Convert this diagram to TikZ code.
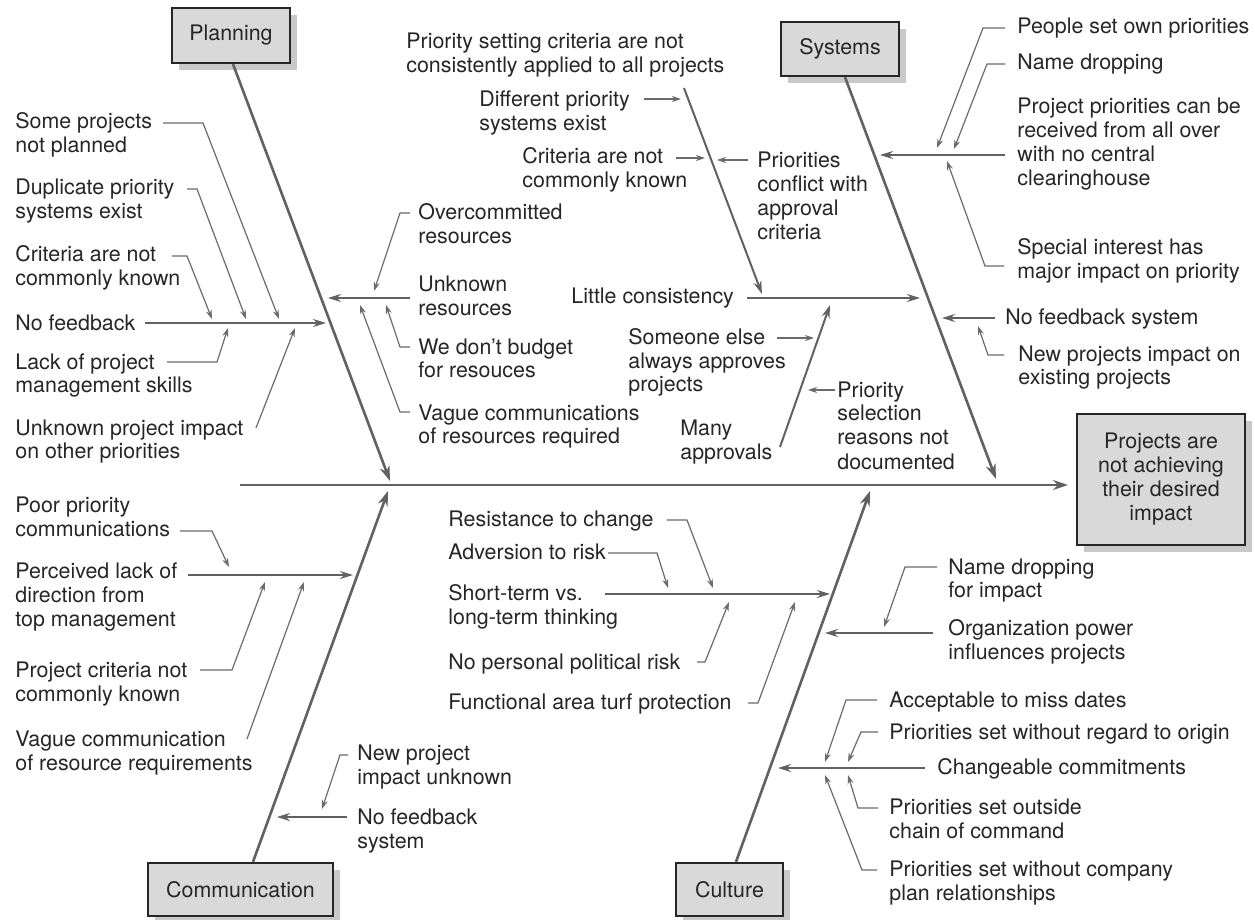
\documentclass[tikz,border=0pt]{standalone}
\usepackage{fontspec}
\setmainfont{TeX Gyre Heros}
\usetikzlibrary{arrows.meta,shadows}
\newcommand{\mlines}[1]{\begin{tabular}[t]{@{}l@{}}#1\end{tabular}}
\newcommand{\clines}[1]{\begin{tabular}{@{}c@{}}#1\end{tabular}}
\begin{document}
\begin{tikzpicture}[x=0.5pt,y=-0.5pt,
  font=\fontsize{10.7}{12}\selectfont,
  txt/.style={anchor=base west, inner sep=0pt, text=black!85},
  box/.style={draw=black!85, line width=1.1pt, fill=black!15, inner sep=0pt, text=black!85,
    drop shadow={shadow xshift=3.5pt, shadow yshift=-3.5pt, fill=black!35, opacity=0.6}},
  bone/.style={draw=black!62, line width=1.3pt, -{Stealth[length=7.5pt,width=5pt]}},
  branch/.style={draw=black!62, line width=1pt, -{Stealth[length=6.5pt,width=4pt]}},
  lead/.style={draw=black!58, line width=0.6pt, -{Stealth[length=4.5pt,width=3pt]}},
  plain/.style={draw=black!62, line width=1pt}
]
\useasboundingbox (0,0) rectangle (1255,920);
\fill[white] (0,0) rectangle (1255,920);

% ---------- boxes ----------
\node[box, minimum width=59pt, minimum height=27.5pt] (plan) at (231,35.5) {Planning};
\node[box, minimum width=59pt, minimum height=27pt] (sys) at (840,49) {Systems};
\node[box, minimum width=92.5pt, minimum height=26.5pt] (comm) at (240.5,889.5) {Communication};
\node[box, minimum width=53.5pt, minimum height=26.5pt] (cult) at (729.5,889.5) {Culture};
\node[box, minimum width=84pt, minimum height=65.5pt] (eff) at (1161,479.5)
  {\clines{Projects are\\not achieving\\their desired\\impact}};

% ---------- spine and bones ----------
\coordinate (spL) at (240,485);
\coordinate (spR) at (1068,485);
\draw[bone] (spL) -- (spR);
\coordinate (pTip) at (390,481);
\coordinate (sTip) at (996,479);
\coordinate (cTip) at (388,491);
\coordinate (uTip) at (870,491);
\draw[bone] ([xshift=1pt]plan.south) -- (pTip);
\draw[bone] ([xshift=2.5pt]sys.south) -- (sTip);
\draw[bone] ([xshift=6.25pt]comm.north) -- (cTip);
\draw[bone] ([xshift=3.25pt]cult.north) -- (uTip);

% ---------- Planning ----------
\node[txt] (p1) at (15,129) {\mlines{Some projects\\not planned}};
\node[txt] (p2) at (15,195) {\mlines{Duplicate priority\\systems exist}};
\node[txt] (p3) at (15,262) {\mlines{Criteria are not\\commonly known}};
\node[txt] (p4) at (15,330) {No feedback};
\node[txt] (p5) at (15,369) {\mlines{Lack of project\\management skills}};
\node[txt] (p6) at (15,435) {\mlines{Unknown project impact\\on other priorities}};

\coordinate (p4a) at (145,323); \coordinate (p4b) at (326,323);
\draw[branch] (p4a) -- (p4b);
\coordinate (p1a) at (163,123); \coordinate (p1b) at (203,123); \coordinate (p1c) at (279,319);
\draw[lead] (p1a) -- (p1b) -- (p1c);
\coordinate (p2a) at (187,189); \coordinate (p2b) at (197,189); \coordinate (p2c) at (246,319);
\draw[lead] (p2a) -- (p2b) -- (p2c);
\coordinate (p3a) at (172,256); \coordinate (p3b) at (187,256); \coordinate (p3c) at (212,319);
\draw[lead] (p3a) -- (p3b) -- (p3c);
\coordinate (p5a) at (167,362); \coordinate (p5b) at (217,362); \coordinate (p5c) at (228,328);
\draw[lead] (p5a) -- (p5b) -- (p5c);
\coordinate (p6a) at (256,428); \coordinate (p6c) at (295,328);
\draw[lead] (p6a) -- (p6c);

% resources
\node[txt] (r1) at (418,220) {\mlines{Overcommitted\\resources}};
\node[txt] (r2) at (418,292) {\mlines{Unknown\\resources}};
\node[txt] (r3) at (418,354) {\mlines{We don't budget\\for resouces}};
\node[txt] (r4) at (418,420) {\mlines{Vague communications\\of resources required}};
\coordinate (r2a) at (410,298); \coordinate (r2b) at (328,298);
\draw[branch] (r2a) -- (r2b);
\coordinate (r1a) at (410,213); \coordinate (r1b) at (400,213); \coordinate (r1c) at (374,291);
\draw[lead] (r1a) -- (r1b) -- (r1c);
\coordinate (r3a) at (410,347); \coordinate (r3b) at (400,347); \coordinate (r3c) at (386,305);
\draw[lead] (r3a) -- (r3b) -- (r3c);
\coordinate (r4a) at (410,412); \coordinate (r4b) at (400,412); \coordinate (r4c) at (360,305);
\draw[lead] (r4a) -- (r4b) -- (r4c);

% ---------- Systems ----------
\node[txt] (s1) at (406,49) {\mlines{Priority setting criteria are not\\consistently applied to all projects}};
\node[txt] (s2) at (479,107) {\mlines{Different priority\\systems exist}};
\node[txt] (s3) at (522,164) {\mlines{Criteria are not\\commonly known}};
\node[txt] (s4) at (757,168) {\mlines{Priorities\\conflict with\\approval\\criteria}};
\node[txt] (s5) at (571,304) {Little consistency};
\node[txt] (s6) at (628,344) {\mlines{Someone else\\always approves\\projects}};
\node[txt] (s7) at (837,397) {\mlines{Priority\\selection\\reasons not\\documented}};
\node[txt] (s8) at (680,436) {\mlines{Many\\approvals}};

\coordinate (s1a) at (684,88); \coordinate (s1b) at (762,294);
\draw[branch] (s1a) -- (s1b);
\coordinate (s5a) at (747,298); \coordinate (s5b) at (920,298);
\draw[branch] (s5a) -- (s5b);
\coordinate (s8a) at (780,447); \coordinate (s8b) at (830,305);
\draw[branch] (s8a) -- (s8b);
\coordinate (s2a) at (644,99); \coordinate (s2b) at (681,99);
\draw[lead] (s2a) -- (s2b);
\coordinate (s3a) at (676,158); \coordinate (s3b) at (705,158);
\draw[lead] (s3a) -- (s3b);
\coordinate (s4a) at (748,160); \coordinate (s4b) at (717,160);
\draw[lead] (s4a) -- (s4b);
\coordinate (s6a) at (777,338); \coordinate (s6b) at (814,338);
\draw[lead] (s6a) -- (s6b);
\coordinate (s7a) at (835,390); \coordinate (s7b) at (808,390);
\draw[lead] (s7a) -- (s7b);

\node[txt] (q1) at (1017,34) {People set own priorities};
\node[txt] (q2) at (1017,70) {Name dropping};
\node[txt] (q3) at (1017,114) {\mlines{Project priorities can be\\received from all over\\with no central\\clearinghouse}};
\node[txt] (q4) at (1017,255) {\mlines{Special interest has\\major impact on priority}};
\node[txt] (q5) at (1005,325) {No feedback system};
\node[txt] (q6) at (1018,361) {\mlines{New projects impact on\\existing projects}};

\coordinate (q3a) at (1005,155); \coordinate (q3b) at (880,155);
\draw[branch] (q3a) -- (q3b);
\coordinate (q5a) at (995,318); \coordinate (q5b) at (942,318);
\draw[branch] (q5a) -- (q5b);
\coordinate (q1a) at (1005,28); \coordinate (q1b) at (983,28); \coordinate (q1c) at (937,148);
\draw[lead] (q1a) -- (q1b) -- (q1c);
\coordinate (q2a) at (1005,64); \coordinate (q2b) at (987,64); \coordinate (q2c) at (954,149);
\draw[lead] (q2a) -- (q2b) -- (q2c);
\coordinate (q4a) at (1004,266); \coordinate (q4b) at (985,266); \coordinate (q4c) at (947,161);
\draw[lead] (q4a) -- (q4b) -- (q4c);
\coordinate (q6a) at (1004,355); \coordinate (q6b) at (988,355); \coordinate (q6c) at (978,326);
\draw[lead] (q6a) -- (q6b) -- (q6c);

% ---------- Culture ----------
\node[txt] (u1) at (448,526) {Resistance to change};
\node[txt] (u2) at (448,559) {Adversion to risk};
\node[txt] (u3) at (448,600) {\mlines{Short-term vs.\\long-term thinking}};
\node[txt] (u4) at (448,669) {No personal political risk};
\node[txt] (u5) at (448,709) {Functional area turf protection};

\coordinate (u3a) at (605,594); \coordinate (u3b) at (830,594);
\draw[branch] (u3a) -- (u3b);
\coordinate (u1a) at (667,520); \coordinate (u1b) at (687,520); \coordinate (u1c) at (713,588);
\draw[lead] (u1a) -- (u1b) -- (u1c);
\coordinate (u2a) at (608,553); \coordinate (u2b) at (657,553); \coordinate (u2c) at (668,588);
\draw[lead] (u2a) -- (u2b) -- (u2c);
\coordinate (u4a) at (697,662); \coordinate (u4b) at (705,662); \coordinate (u4c) at (729,602);
\draw[lead] (u4a) -- (u4b) -- (u4c);
\coordinate (u5a) at (748,703); \coordinate (u5b) at (758,703); \coordinate (u5c) at (795,602);
\draw[lead] (u5a) -- (u5b) -- (u5c);

\node[txt] (v1) at (948,574) {\mlines{Name dropping\\for impact}};
\node[txt] (v2) at (948,635) {\mlines{Organization power\\influences projects}};
\coordinate (v2a) at (933,633); \coordinate (v2b) at (825,633);
\draw[branch] (v2a) -- (v2b);
\coordinate (v1a) at (937,567); \coordinate (v1b) at (905,567); \coordinate (v1c) at (884,627);
\draw[lead] (v1a) -- (v1b) -- (v1c);

\node[txt] (w1) at (889,707) {Acceptable to miss dates};
\node[txt] (w2) at (889,739) {Priorities set without regard to origin};
\node[txt] (w3) at (937,774) {Changeable commitments};
\node[txt] (w4) at (889,814) {\mlines{Priorities set outside\\chain of command}};
\node[txt] (w5) at (889,876) {\mlines{Priorities set without company\\plan relationships}};
\coordinate (w3a) at (925,768); \coordinate (w3b) at (778,768);
\draw[branch] (w3a) -- (w3b);
\coordinate (w1a) at (877,700); \coordinate (w1b) at (846,700); \coordinate (w1c) at (825,762);
\draw[lead] (w1a) -- (w1b) -- (w1c);
\coordinate (w2a) at (878,732); \coordinate (w2b) at (861,732); \coordinate (w2c) at (848,762);
\draw[lead] (w2a) -- (w2b) -- (w2c);
\coordinate (w4a) at (878,808); \coordinate (w4b) at (858,808); \coordinate (w4c) at (848,775);
\draw[lead] (w4a) -- (w4b) -- (w4c);
\coordinate (w5a) at (877,870); \coordinate (w5b) at (862,870); \coordinate (w5c) at (825,775);
\draw[lead] (w5a) -- (w5b) -- (w5c);

% ---------- Communication ----------
\node[txt] (c1) at (15,512) {\mlines{Poor priority\\communications}};
\node[txt] (c2) at (15,578) {\mlines{Perceived lack of\\direction from\\top management}};
\node[txt] (c3) at (15,677) {\mlines{Project criteria not\\commonly known}};
\node[txt] (c4) at (15,746) {\mlines{Vague communication\\of resource requirements}};
\node[txt] (c5) at (357,760) {\mlines{New project\\impact unknown}};
\node[txt] (c6) at (357,824) {\mlines{No feedback\\system}};

\coordinate (c2a) at (188,575); \coordinate (c2b) at (353,575);
\draw[branch] (c2a) -- (c2b);
\coordinate (c1a) at (180,531); \coordinate (c1b) at (212,531); \coordinate (c1c) at (229,567);
\draw[lead] (c1a) -- (c1b) -- (c1c);
\coordinate (c3a) at (200,670); \coordinate (c3b) at (232,670); \coordinate (c3c) at (265,582);
\draw[lead] (c3a) -- (c3b) -- (c3c);
\coordinate (c4a) at (247,739); \coordinate (c4c) at (304,582);
\draw[lead] (c4a) -- (c4c);
\coordinate (c6a) at (347,817); \coordinate (c6b) at (277,817);
\draw[branch] (c6a) -- (c6b);
\coordinate (c5a) at (348,755); \coordinate (c5b) at (340,755); \coordinate (c5c) at (322,809);
\draw[lead] (c5a) -- (c5b) -- (c5c);
\end{tikzpicture}
\end{document}
